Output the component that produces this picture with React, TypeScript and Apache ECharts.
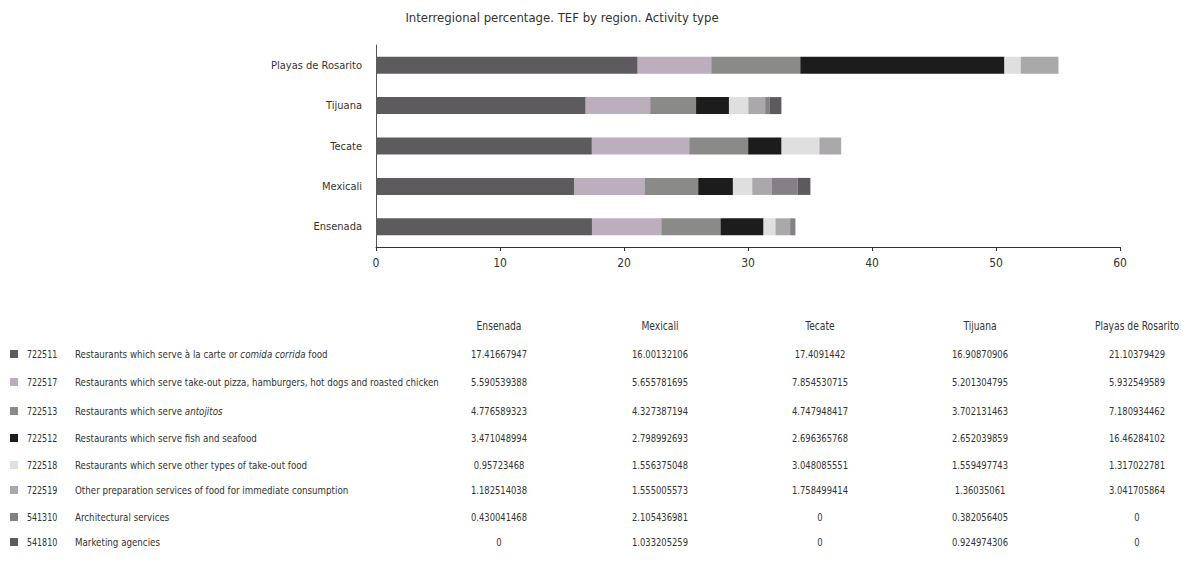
import React, { useEffect, useRef } from "react";
import * as echarts from "echarts";

const regions = ["Ensenada", "Mexicali", "Tecate", "Tijuana", "Playas de Rosarito"];
const codes = ["722511", "722517", "722513", "722512", "722518", "722519", "541310", "541810"];
const descriptions = [
  "Restaurants which serve à la carte or {i|comida corrida} food",
  "Restaurants which serve take-out pizza, hamburgers, hot dogs and roasted chicken",
  "Restaurants which serve {i|antojitos}",
  "Restaurants which serve fish and seafood",
  "Restaurants which serve other types of take-out food",
  "Other preparation services of food for immediate consumption",
  "Architectural services",
  "Marketing agencies",
];
const colors = ["#5e5b5e", "#bcaebc", "#8a8a88", "#1c1c1c", "#e0dfe0", "#aba8ab", "#858085", "#5c5a5c"];

const v722511 = [17.41667947, 16.00132106, 17.4091442, 16.90870906, 21.10379429];
const v722517 = [5.590539388, 5.655781695, 7.854530715, 5.201304795, 5.932549589];
const v722513 = [4.776589323, 4.327387194, 4.747948417, 3.702131463, 7.180934462];
const v722512 = [3.471048994, 2.798992693, 2.696365768, 2.652039859, 16.46284102];
const v722518 = [0.95723468, 1.556375048, 3.048085551, 1.559497743, 1.317022781];
const v722519 = [1.182514038, 1.555005573, 1.758499414, 1.36035061, 3.041705864];
const v541310 = [0.430041468, 2.105436981, 0, 0.382056405, 0];
const v541810 = [0, 1.033205259, 0, 0.924974306, 0];
const seriesValues = [v722511, v722517, v722513, v722512, v722518, v722519, v541310, v541810];

const xTicks = [0, 10, 20, 30, 40, 50, 60];

const FONT = "'DejaVu Sans Condensed', 'Liberation Sans Narrow', 'Liberation Sans', sans-serif";

export default function App() {
  const ref = useRef<HTMLDivElement>(null);
  useEffect(() => {
    if (!ref.current) return;
    const chart = echarts.init(ref.current, null, { renderer: "svg" });

    const colX = [499, 660, 820, 980, 1137];
    const rowY = [354, 382, 411, 438, 465, 490, 517, 542];
    const SX = 0.85;
    const graphics: any[] = [];
    regions.forEach((r, j) => {
      graphics.push({
        type: "text",
        x: colX[j],
        y: 326,
        scaleX: SX,
        style: { text: r, fill: "#333", font: `12px ${FONT}`, align: "center", verticalAlign: "middle" },
      });
    });
    codes.forEach((c, i) => {
      graphics.push({
        type: "rect",
        shape: { x: 10, y: rowY[i] - 4, width: 8, height: 8 },
        style: { fill: colors[i] },
      });
      graphics.push({
        type: "text",
        x: 27,
        y: rowY[i],
        scaleX: 0.8,
        style: { text: c, fill: "#333", font: `11px ${FONT}`, align: "left", verticalAlign: "middle" },
      });
      graphics.push({
        type: "text",
        x: 75,
        y: rowY[i],
        scaleX: 0.88,
        style: {
          text: descriptions[i],
          fill: "#333",
          font: `11px ${FONT}`,
          align: "left",
          verticalAlign: "middle",
          rich: { i: { fontStyle: "italic", fontFamily: FONT, fontSize: 11, fill: "#333" } },
        },
      });
      seriesValues[i].forEach((v, j) => {
        graphics.push({
          type: "text",
          x: colX[j],
          y: rowY[i],
          scaleX: SX,
          style: { text: String(v), fill: "#333", font: `11px ${FONT}`, align: "center", verticalAlign: "middle" },
        });
      });
    });

    chart.setOption({
      animation: false,
      backgroundColor: "#fff",
      title: {
        text: "Interregional percentage. TEF by region. Activity type",
        left: 557,
        textAlign: "center",
        top: 6,
        textStyle: { fontFamily: FONT, fontSize: 13, fontWeight: "normal", color: "#333" },
      },
      grid: { left: 376, right: 71, top: 45, height: 202, containLabel: false },
      xAxis: {
        type: "value",
        min: 0,
        max: 60,
        interval: 10,
        axisLine: { show: true, lineStyle: { color: "#333" } },
        axisTick: { show: true, length: 4, lineStyle: { color: "#333" } },
        splitLine: { show: false },
        axisLabel: {
          color: "#333",
          fontFamily: FONT,
          fontSize: 12,
          margin: 10,
          customValues: xTicks,
        },
      },
      yAxis: {
        type: "category",
        data: regions,
        axisLine: { show: true, lineStyle: { color: "#555" } },
        axisTick: { show: false },
        axisLabel: { color: "#333", fontFamily: FONT, fontSize: 11, margin: 14 },
      },
      series: codes.map((c, i) => ({
        name: c,
        type: "bar",
        stack: "total",
        barWidth: 17,
        data: seriesValues[i],
        itemStyle: { color: colors[i] },
      })),
      graphic: graphics,
    });
    return () => chart.dispose();
  }, []);
  return (
    <div
      ref={ref}
      style={{ position: "fixed", left: 0, top: 0, width: 1191, height: 563 }}
    />
  );
}
